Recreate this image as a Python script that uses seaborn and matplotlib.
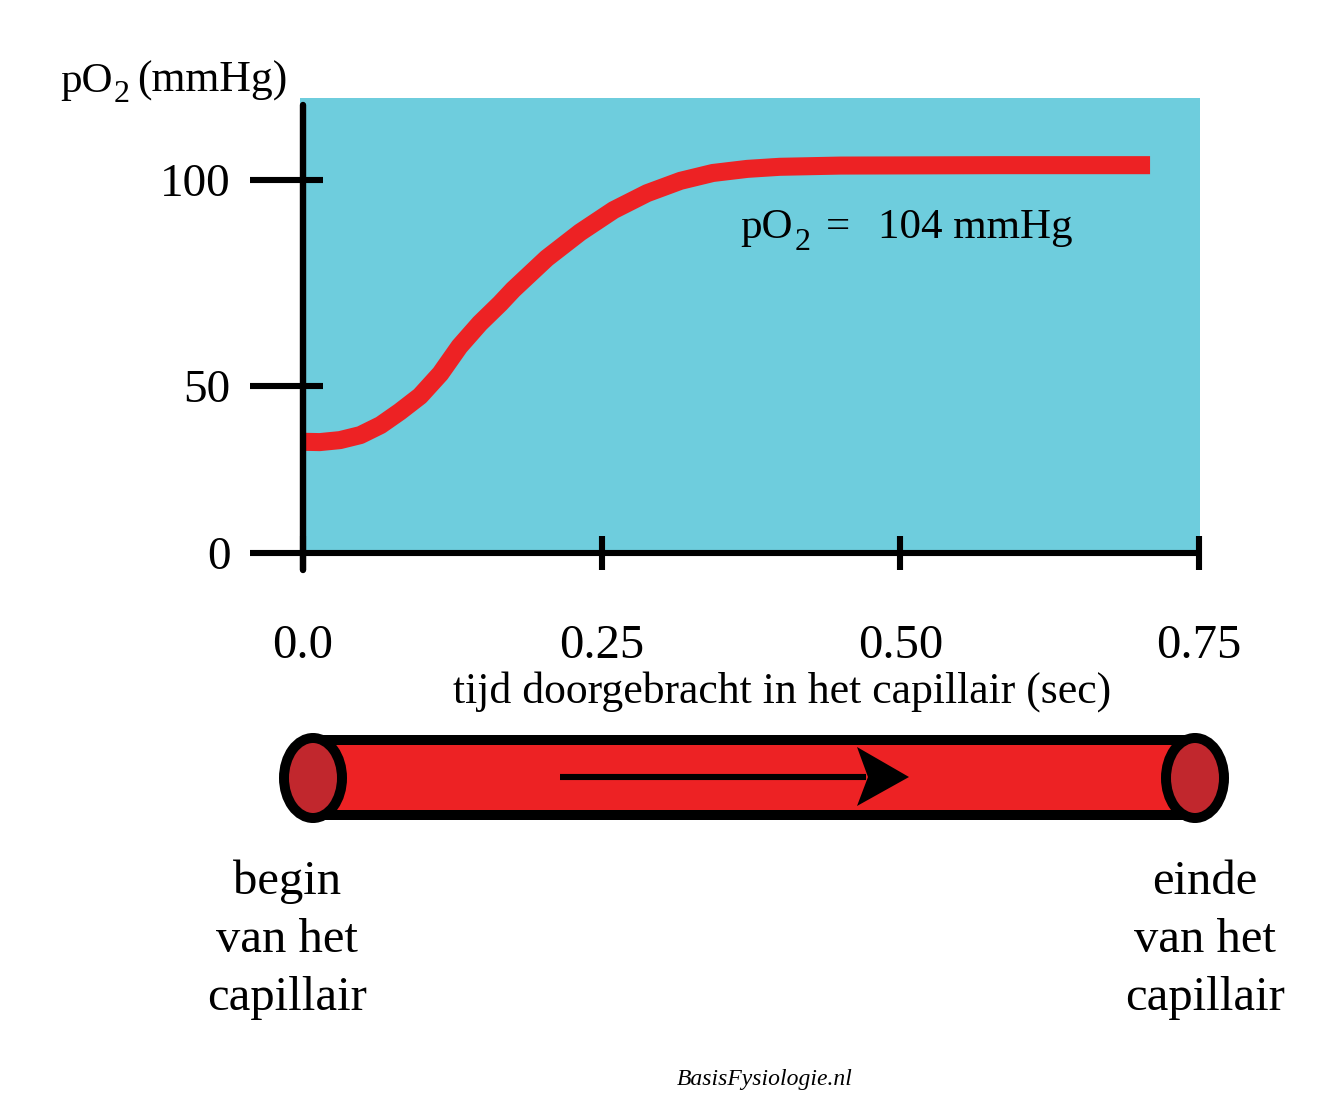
import numpy as np
import pandas as pd
import matplotlib
matplotlib.use("Agg")
import matplotlib.pyplot as plt
import matplotlib.transforms as mtransforms
from matplotlib.patches import Rectangle, Ellipse, Polygon
import seaborn as sns

# pO2 in het capillair
tijd_sec = [0.000, 0.014, 0.031, 0.048, 0.065, 0.081, 0.098, 0.115, 0.131, 0.148,
            0.165, 0.176, 0.204, 0.232, 0.260, 0.288, 0.316, 0.343, 0.372, 0.399,
            0.450, 0.583, 0.709]
po2_mmhg = [33.3, 33.2, 33.8, 35.3, 38.3, 42.3, 47.0, 53.0, 59.6, 65.2,
            70.0, 73.4, 81.0, 87.3, 92.7, 96.8, 99.8, 101.7, 102.7, 103.2,
            103.5, 103.6, 103.6]

x_ticks = [0.0, 0.25, 0.50, 0.75]
x_labels = ["0.0", "0.25", "0.50", "0.75"]
y_ticks = [0, 50, 100]
y_labels = ["0", "50", "100"]

CYAN = "#6ecddd"
RED = "#ed2224"
DARK_RED = "#c1272d"

sns.set_theme(style="white")
plt.rcParams["font.family"] = ["Liberation Serif", "DejaVu Serif"]
plt.rcParams["text.color"] = "black"
plt.rcParams["xtick.color"] = "black"
plt.rcParams["ytick.color"] = "black"
plt.rcParams["axes.labelcolor"] = "black"


# the original axis is not linear: 0-50 is shorter than 50-100
def y_fwd(v):
    v = np.asarray(v, dtype=float)
    return np.where(v <= 50, v * 167 / 50, 167 + (v - 50) * 206 / 50)


def y_inv(p):
    p = np.asarray(p, dtype=float)
    return np.where(p <= 167, p * 50 / 167, 50 + (p - 167) * 50 / 206)


df = pd.DataFrame({"tijd": tijd_sec, "pO2": po2_mmhg})

fig = plt.figure(figsize=(13.32, 11.09), dpi=100)
ax = fig.add_axes([300 / 1332, 1 - 553 / 1109, 900 / 1332, 455 / 1109])
ax.set_facecolor(CYAN)
ax.set_yscale("function", functions=(y_fwd, y_inv))
ax.set_xlim(-0.0025, 0.7508)
ax.set_ylim(0, 119.9)

sns.lineplot(data=df, x="tijd", y="pO2", ax=ax, color=RED, linewidth=13,
             solid_capstyle="butt", solid_joinstyle="round", zorder=3)

for s in ax.spines.values():
    s.set_visible(False)

# y axis line and tick dashes
ax.axvline(0, ymin=-17 / 455, ymax=448 / 455, color="black", lw=4.6,
           clip_on=False, zorder=4)
trans = mtransforms.blended_transform_factory(ax.transAxes, ax.transData)
for v in y_ticks:
    x_end = 1.0 if v == 0 else 23 / 900
    ax.plot([-50 / 900, x_end], [v, v], transform=trans, color="black",
            lw=4.4, clip_on=False, solid_capstyle="butt", zorder=4)

ax.set_xticks(x_ticks)
ax.set_xticklabels(x_labels)
ax.set_yticks(y_ticks)
ax.set_yticklabels(y_labels)
ax.tick_params(axis="x", direction="inout", length=24, width=4.4, color="black",
               labelsize=35, pad=39, bottom=True)
ax.tick_params(axis="y", length=0, labelsize=34, pad=50, left=True)
ax.minorticks_off()
ax.set_xlabel("")
ax.set_ylabel("")

# overlay for labels and the capillary drawing (pixel coordinates)
ov = fig.add_axes([0, 0, 1, 1])
ov.set_xlim(0, 1332)
ov.set_ylim(1109, 0)
ov.axis("off")
ov.patch.set_alpha(0)

# y label with subscript
ov.text(60, 92, "pO", fontsize=31, ha="left", va="baseline")
ov.text(114, 102, "2", fontsize=23, ha="left", va="baseline")
ov.text(137, 92, "(mmHg)", fontsize=31.5, ha="left", va="baseline")

# plateau value
ov.text(740, 238, "pO", fontsize=31, ha="left", va="baseline")
ov.text(795, 250, "2", fontsize=23, ha="left", va="baseline")
ov.text(826, 238, "=", fontsize=31, ha="left", va="baseline")
ov.text(878, 238, "104 mmHg", fontsize=31, ha="left", va="baseline")

ov.text(782, 703, "tijd doorgebracht in het capillair (sec)", fontsize=31.5,
        ha="center", va="baseline")

# capillary tube
ov.add_patch(Rectangle((313, 740), 882, 75, facecolor=RED, edgecolor="black", lw=7.2))
for cx in (313, 1195):
    ov.add_patch(Ellipse((cx, 778), 58, 80, facecolor=DARK_RED, edgecolor="black", lw=7.2))
ov.plot([560, 866], [777, 777], color="black", lw=4.4, solid_capstyle="butt")
ov.add_patch(Polygon([(857, 747), (909, 777), (857, 806), (868, 777)],
                     closed=True, facecolor="black", edgecolor="none"))

ov.text(287, 1010, "begin\nvan het\ncapillair", fontsize=35, ha="center",
        va="baseline", linespacing=1.41, multialignment="center")
ov.text(1205, 1010, "einde\nvan het\ncapillair", fontsize=35, ha="center",
        va="baseline", linespacing=1.41, multialignment="center")
ov.text(765, 1085, "BasisFysiologie.nl", fontsize=17, style="italic",
        ha="center", va="baseline")

fig.savefig("out.png", dpi=100)
